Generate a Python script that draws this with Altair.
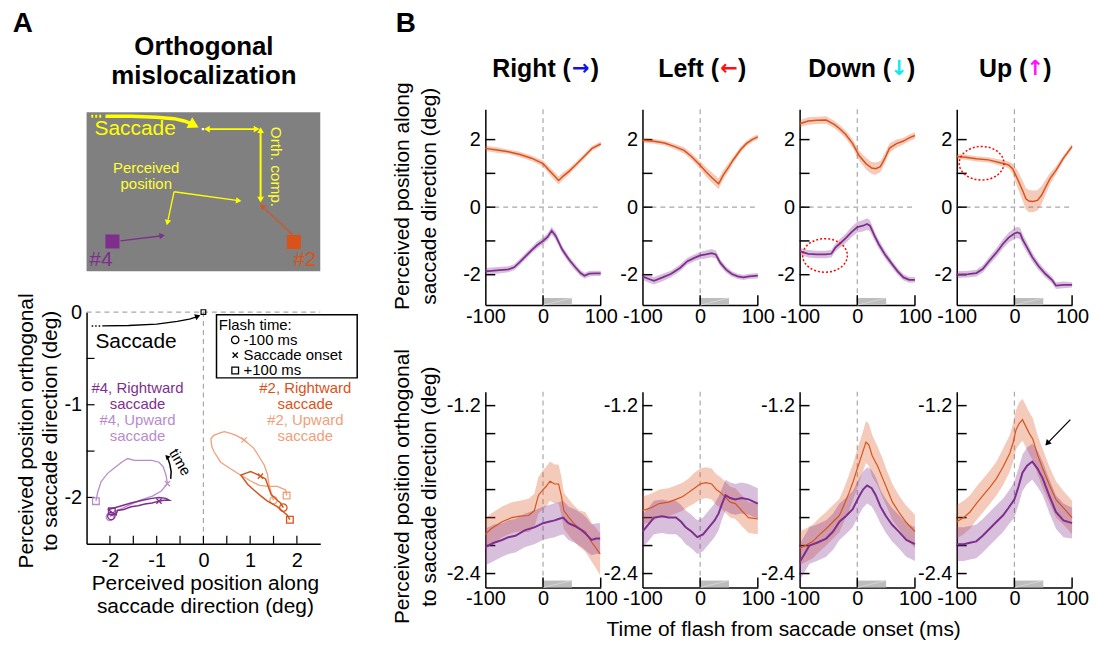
import altair as alt
import pandas as pd

FONT = "Liberation Sans"
ORANGE = "#D95319"
PURPLE = "#7E2F8E"
ORANGE_L = "#F0A07A"
PURPLE_L = "#B88CCB"
DASH_GRAY = "#A8A8A8"
BAR_GRAY = "#BDBDBD"
YELLOW = "#FFFF00"

# ---------------- Panel B : along saccade direction (top row) ----------------
DIRECTIONS = ["Right", "Left", "Down", "Up"]
ARROWS = ["\u2192", "\u2190", "\u2193", "\u2191"]
ARROW_COLORS = ["#1010F0", "#FF1010", "#10E8F0", "#FF10FF"]
TITLE_POS = [(86, 96, 106), (77, 87, 96), (92, 100, 108), (71, 79, 87)]

right_top_o_t = [-100, -80, -60, -40, -20, 0, 10, 20, 27, 35, 45, 56, 70, 85, 100]
right_top_o_v = [1.74, 1.69, 1.64, 1.56, 1.45, 1.29, 1.10, 0.92, 0.79, 0.92, 1.06, 1.24, 1.48, 1.74, 1.87]
right_top_o_e = [0.08, 0.08, 0.07, 0.08, 0.08, 0.09, 0.11, 0.12, 0.12, 0.11, 0.09, 0.08, 0.08, 0.07, 0.07]
right_top_p_t = [-100, -80, -60, -50, -40, -30, -20, -10, 0, 8, 15, 22, 33, 45, 56, 65, 72, 80, 90, 100]
right_top_p_v = [-1.90, -1.87, -1.84, -1.78, -1.62, -1.45, -1.28, -1.12, -1.00, -0.88, -0.70, -0.85, -1.25, -1.55, -1.78, -1.95, -2.03, -1.97, -1.96, -1.96]
right_top_p_e = [0.10, 0.10, 0.09, 0.09, 0.09, 0.09, 0.09, 0.10, 0.10, 0.11, 0.12, 0.12, 0.11, 0.10, 0.10, 0.09, 0.09, 0.08, 0.08, 0.08]

left_top_o_t = [-100, -80, -62, -45, -28, -15, 0, 10, 20, 32, 40, 50, 57, 70, 80, 90, 100]
left_top_o_v = [1.98, 1.95, 1.90, 1.80, 1.68, 1.50, 1.24, 1.05, 0.88, 0.69, 0.95, 1.20, 1.39, 1.70, 1.88, 2.00, 2.08]
left_top_o_e = [0.07, 0.07, 0.07, 0.08, 0.09, 0.10, 0.12, 0.14, 0.15, 0.16, 0.14, 0.12, 0.10, 0.09, 0.08, 0.08, 0.08]
left_top_p_t = [-100, -90, -80, -65, -51, -35, -22, -10, 0, 10, 20, 27, 35, 45, 55, 65, 75, 85, 100]
left_top_p_v = [-2.05, -2.12, -2.18, -2.08, -1.98, -1.80, -1.60, -1.50, -1.43, -1.40, -1.36, -1.40, -1.65, -1.85, -1.98, -2.05, -2.08, -2.05, -2.03]
left_top_p_e = [0.10, 0.11, 0.11, 0.11, 0.10, 0.10, 0.10, 0.10, 0.11, 0.12, 0.12, 0.12, 0.10, 0.09, 0.08, 0.08, 0.08, 0.08, 0.08]

down_top_o_t = [-100, -85, -70, -54, -40, -31, -20, -8, 3, 15, 25, 32, 40, 48, 56, 68, 79, 90, 100]
down_top_o_v = [2.47, 2.55, 2.57, 2.58, 2.45, 2.33, 2.15, 1.88, 1.53, 1.29, 1.16, 1.14, 1.20, 1.45, 1.75, 1.88, 1.95, 2.05, 2.12]
down_top_o_e = [0.10, 0.11, 0.11, 0.11, 0.11, 0.11, 0.12, 0.13, 0.15, 0.17, 0.18, 0.18, 0.17, 0.16, 0.14, 0.12, 0.10, 0.10, 0.10]
down_top_p_t = [-100, -85, -70, -55, -45, -38, -31, -20, -10, 0, 10, 17, 22, 30, 37, 48, 60, 70, 80, 90, 100]
down_top_p_v = [-1.30, -1.38, -1.40, -1.40, -1.38, -1.20, -1.09, -0.92, -0.74, -0.59, -0.55, -0.50, -0.55, -0.85, -1.09, -1.40, -1.68, -1.90, -2.08, -2.15, -2.15]
down_top_p_e = [0.10, 0.11, 0.11, 0.11, 0.11, 0.12, 0.13, 0.14, 0.15, 0.16, 0.17, 0.17, 0.16, 0.14, 0.13, 0.12, 0.11, 0.10, 0.09, 0.09, 0.08]

up_top_o_t = [-100, -85, -66, -45, -23, -10, -3, 5, 14, 20, 25, 32, 40, 47, 54, 62, 72, 85, 100]
up_top_o_v = [1.50, 1.48, 1.43, 1.40, 1.31, 1.25, 1.14, 0.85, 0.50, 0.25, 0.18, 0.17, 0.20, 0.35, 0.59, 0.85, 1.09, 1.45, 1.80]
up_top_o_e = [0.08, 0.08, 0.08, 0.08, 0.09, 0.10, 0.15, 0.25, 0.30, 0.32, 0.33, 0.32, 0.30, 0.27, 0.22, 0.17, 0.12, 0.08, 0.08]
up_top_p_t = [-100, -80, -66, -55, -43, -30, -20, -10, 0, 5, 10, 14, 22, 31, 42, 54, 65, 72, 85, 100]
up_top_p_v = [-2.00, -1.98, -1.95, -1.83, -1.58, -1.32, -1.09, -0.90, -0.78, -0.75, -0.78, -0.95, -1.20, -1.48, -1.75, -1.98, -2.15, -2.32, -2.30, -2.30]
up_top_p_e = [0.10, 0.10, 0.10, 0.11, 0.12, 0.13, 0.14, 0.15, 0.16, 0.17, 0.17, 0.16, 0.15, 0.14, 0.12, 0.11, 0.10, 0.10, 0.10, 0.08]

# ---------------- Panel B : orthogonal component (bottom row) ----------------
right_bot_o_t = [-100, -90, -71, -54, -40, -25, -15, -8, 0, 5, 12, 20, 27, 32, 36, 45, 53, 63, 73, 85, 99]
right_bot_o_v = [-2.12, -2.08, -2.03, -2.00, -1.99, -1.985, -1.95, -1.84, -1.80, -1.78, -1.74, -1.76, -1.76, -1.85, -1.95, -2.00, -2.04, -2.08, -2.10, -2.18, -2.26]
right_bot_o_e = [0.11, 0.11, 0.11, 0.11, 0.11, 0.12, 0.12, 0.13, 0.14, 0.14, 0.14, 0.14, 0.14, 0.14, 0.13, 0.13, 0.13, 0.13, 0.14, 0.14, 0.15]
right_bot_p_t = [-100, -85, -71, -60, -48, -31, -15, 0, 10, 20, 27, 35, 44, 55, 67, 75, 84, 92, 99]
right_bot_p_v = [-2.21, -2.18, -2.16, -2.14, -2.13, -2.09, -2.07, -2.04, -2.03, -2.02, -2.01, -2.00, -2.04, -2.06, -2.09, -2.12, -2.16, -2.15, -2.15]
right_bot_p_e = [0.13, 0.13, 0.12, 0.12, 0.12, 0.12, 0.12, 0.12, 0.12, 0.12, 0.12, 0.12, 0.12, 0.12, 0.12, 0.12, 0.11, 0.11, 0.11]

left_bot_o_t = [-100, -85, -71, -55, -42, -30, -20, -10, 0, 10, 20, 28, 35, 45, 52, 61, 72, 84, 100]
left_bot_o_v = [-1.95, -1.93, -1.90, -1.89, -1.87, -1.85, -1.82, -1.79, -1.76, -1.75, -1.76, -1.80, -1.82, -1.86, -1.89, -1.90, -1.95, -2.00, -2.01]
left_bot_o_e = [0.10, 0.10, 0.10, 0.10, 0.10, 0.10, 0.10, 0.11, 0.11, 0.11, 0.11, 0.11, 0.11, 0.11, 0.11, 0.11, 0.11, 0.11, 0.11]
left_bot_p_t = [-100, -90, -80, -66, -55, -42, -33, -25, -15, -5, 5, 15, 25, 32, 38, 44, 52, 61, 72, 84, 100]
left_bot_p_v = [-2.10, -2.05, -2.00, -1.99, -2.00, -2.00, -2.03, -2.07, -2.10, -2.14, -2.12, -2.07, -2.02, -1.97, -1.90, -1.84, -1.86, -1.87, -1.86, -1.87, -1.90]
left_bot_p_e = [0.12, 0.12, 0.12, 0.12, 0.12, 0.12, 0.12, 0.12, 0.12, 0.12, 0.12, 0.12, 0.12, 0.12, 0.11, 0.11, 0.11, 0.11, 0.11, 0.11, 0.11]

down_bot_o_t = [-100, -90, -77, -65, -54, -42, -31, -22, -14, -7, 0, 8, 15, 20, 26, 35, 44, 52, 61, 72, 84, 100]
down_bot_o_v = [-2.22, -2.20, -2.17, -2.12, -2.08, -2.03, -1.985, -1.90, -1.82, -1.74, -1.65, -1.55, -1.46, -1.48, -1.56, -1.63, -1.72, -1.80, -1.89, -1.96, -2.03, -2.10]
down_bot_o_e = [0.12, 0.12, 0.12, 0.12, 0.12, 0.12, 0.12, 0.12, 0.13, 0.13, 0.14, 0.14, 0.15, 0.15, 0.15, 0.14, 0.14, 0.13, 0.13, 0.12, 0.12, 0.12]
down_bot_p_t = [-100, -90, -83, -70, -54, -42, -31, -20, -8, 3, 10, 17, 25, 32, 40, 49, 60, 72, 85, 100]
down_bot_p_v = [-2.32, -2.25, -2.20, -2.18, -2.15, -2.10, -2.03, -1.99, -1.94, -1.85, -1.80, -1.77, -1.79, -1.84, -1.92, -1.985, -2.05, -2.10, -2.16, -2.19]
down_bot_p_e = [0.13, 0.13, 0.13, 0.13, 0.13, 0.13, 0.13, 0.13, 0.13, 0.13, 0.13, 0.13, 0.13, 0.13, 0.12, 0.12, 0.12, 0.12, 0.12, 0.12]

up_bot_o_t = [-100, -88, -77, -66, -54, -42, -31, -20, -8, -2, 3, 8, 14, 20, 26, 32, 40, 49, 60, 72, 85, 100]
up_bot_o_v = [-2.03, -2.00, -1.96, -1.90, -1.84, -1.78, -1.72, -1.64, -1.54, -1.46, -1.37, -1.33, -1.30, -1.35, -1.40, -1.44, -1.55, -1.65, -1.76, -1.87, -1.93, -2.00]
up_bot_o_e = [0.12, 0.12, 0.12, 0.12, 0.12, 0.12, 0.12, 0.13, 0.13, 0.14, 0.14, 0.15, 0.15, 0.15, 0.15, 0.15, 0.14, 0.14, 0.13, 0.13, 0.12, 0.12]
up_bot_p_t = [-100, -88, -77, -66, -55, -43, -31, -20, -10, 0, 7, 14, 22, 31, 40, 49, 60, 72, 85, 100]
up_bot_p_v = [-2.19, -2.19, -2.18, -2.17, -2.13, -2.08, -2.03, -1.985, -1.93, -1.87, -1.78, -1.68, -1.63, -1.60, -1.65, -1.72, -1.84, -1.96, -2.02, -2.04]
up_bot_p_e = [0.12, 0.12, 0.12, 0.12, 0.12, 0.12, 0.12, 0.12, 0.12, 0.13, 0.13, 0.13, 0.13, 0.13, 0.13, 0.12, 0.12, 0.12, 0.12, 0.11]

TOP = {
    "Right": [(right_top_o_t, right_top_o_v, right_top_o_e), (right_top_p_t, right_top_p_v, right_top_p_e)],
    "Left": [(left_top_o_t, left_top_o_v, left_top_o_e), (left_top_p_t, left_top_p_v, left_top_p_e)],
    "Down": [(down_top_o_t, down_top_o_v, down_top_o_e), (down_top_p_t, down_top_p_v, down_top_p_e)],
    "Up": [(up_top_o_t, up_top_o_v, up_top_o_e), (up_top_p_t, up_top_p_v, up_top_p_e)],
}
BOT = {
    "Right": [(right_bot_o_t, right_bot_o_v, right_bot_o_e), (right_bot_p_t, right_bot_p_v, right_bot_p_e)],
    "Left": [(left_bot_o_t, left_bot_o_v, left_bot_o_e), (left_bot_p_t, left_bot_p_v, left_bot_p_e)],
    "Down": [(down_bot_o_t, down_bot_o_v, down_bot_o_e), (down_bot_p_t, down_bot_p_v, down_bot_p_e)],
    "Up": [(up_bot_o_t, up_bot_o_v, up_bot_o_e), (up_bot_p_t, up_bot_p_v, up_bot_p_e)],
}

TOP_YDOM = [-2.9, 2.9]
BOT_YDOM = [-2.5, -1.1]
TOP_YLABELS = [-2, 0, 2]
TOP_YTICKS = [-2, -1, 0, 1, 2]
BOT_YLABELS = [-1.2, -2.4]
BOT_YTICKS = [-1.2, -1.4, -1.6, -1.8, -2.0, -2.2, -2.4]
X_LABELS = [-100, 0, 100]
X_TICKS = [0, 100]
BAR_T = [0, 50]
TOP_BAR_Y = [-2.9, -2.69]
BOT_BAR_Y = [-2.5, -2.45]

ELLIPSES = {("Down", 0): (-56, -1.43), ("Up", 0): (-57, 1.30)}
ARROW_UP_BOT_T = [97, 57]
ARROW_UP_BOT_V = [-1.30, -1.47]

# ---------------- Panel A : trajectories ----------------
traj_lo_x = [1.50, 1.45, 1.40, 1.37, 1.30, 1.18, 1.08, 0.87, 0.70, 0.58, 0.45, 0.37, 0.22, 0.16, 0.18, 0.23, 0.37, 0.58, 0.80, 1.00, 1.20, 1.40, 1.58, 1.76, 1.78]
traj_lo_y = [-2.03, -1.95, -1.85, -1.75, -1.65, -1.55, -1.47, -1.38, -1.33, -1.31, -1.29, -1.30, -1.33, -1.37, -1.45, -1.51, -1.62, -1.69, -1.76, -1.82, -1.87, -1.88, -1.88, -1.92, -1.98]
traj_lo_onset = 7
traj_do_x = [1.71, 1.65, 1.58, 1.52, 1.45, 1.40, 1.33, 1.22, 1.10, 1.01, 0.90, 0.80, 0.95, 1.08, 1.22, 1.37, 1.58, 1.72, 1.79, 1.85]
traj_do_y = [-2.11, -2.06, -2.03, -2.00, -1.97, -1.90, -1.80, -1.77, -1.74, -1.72, -1.74, -1.76, -1.86, -1.92, -1.98, -2.04, -2.10, -2.16, -2.19, -2.24]
traj_do_onset = 7
traj_dp_x = [-1.97, -1.92, -1.87, -1.84, -1.70, -1.55, -1.40, -1.25, -1.10, -0.95, -0.85, -0.73, -0.80, -0.95, -1.10, -1.30, -1.55, -1.75, -1.95, -2.03, -1.97, -1.96]
traj_dp_y = [-2.20, -2.17, -2.19, -2.14, -2.13, -2.10, -2.09, -2.07, -2.06, -2.04, -2.03, -2.03, -2.01, -2.00, -2.01, -2.03, -2.06, -2.09, -2.12, -2.13, -2.16, -2.15]
traj_dp_onset = 9
traj_lp_x = [-2.00, -1.97, -1.90, -1.75, -1.58, -1.35, -1.09, -0.90, -0.77, -0.80, -0.86, -0.95, -1.10, -1.27, -1.48, -1.62, -1.75, -1.90, -2.05, -2.19, -2.26, -2.30]
traj_lp_y = [-2.21, -2.18, -2.15, -2.12, -2.08, -2.03, -1.985, -1.93, -1.85, -1.76, -1.67, -1.62, -1.60, -1.60, -1.60, -1.58, -1.62, -1.68, -1.74, -1.83, -1.94, -2.04]
traj_lp_onset = 8

sacc_dot_x = [-2.39, -2.16]
sacc_dot_y = [-0.15, -0.15]
sacc_curve_x = [-2.16, -1.6, -1.0, -0.56, -0.30, -0.16]
sacc_curve_y = [-0.15, -0.145, -0.13, -0.10, -0.075, -0.055]

LEGEND_BOX = (0.28, 3.29, -0.03, -0.71)
legend_x_sym = [0.68, 0.68, 0.68]
legend_title_y = -0.14
legend_y = [-0.30, -0.465, -0.63]
legend_labels = ["-100 ms", "Saccade onset", "+100 ms"]
legend_text_x = 0.86

group_x_left = -1.41
group_x_right = 2.18
group_y = [-0.815, -0.99, -1.165, -1.34]
group_texts = ["#4, Rightward", "saccade", "#4, Upward", "saccade"]
group_texts_r = ["#2, Rightward", "saccade", "#2, Upward", "saccade"]

time_arrow_x = [-0.70, -0.69, -0.72, -0.76]
time_arrow_y = [-1.80, -1.72, -1.64, -1.58]

TRAJ_XTICKS = [-2, -1.5, -1, -0.5, 0, 0.5, 1, 1.5, 2]
TRAJ_YTICKS = [-0.5, -1, -1.5, -2]

# ---------------- Panel A : schematic (pixel-like units) ----------------
SCH_W, SCH_H = 235, 160
sch_dotted_x = [4.7, 16.3]
sch_dotted_y = [4, 4]
sch_sacc_x = [19, 45, 70, 88, 98, 104]
sch_sacc_y = [4, 4.2, 5.0, 6.5, 8.8, 11]
sch_seg_x = [123, 169, 175, 175, 88, 151, 88, 82, 34, 74, 207, 179]
sch_seg_y = [17, 17, 20, 86, 80, 88.6, 80, 108, 129.5, 124.5, 123, 97]
sch_seg_id = ["h", "h", "v", "v", "p1", "p1", "p2", "p2", "pu", "pu", "or", "or"]
sch_head_x = [108, 121, 171, 175, 175, 153, 81.3, 76, 176.5]
sch_head_y = [13, 17, 17, 18, 88, 89, 111, 124.2, 94.5]
sch_head_a = [28, 180, 0, 270, 90, 8, 103, 352, 222]
sch_head_c = [YELLOW, YELLOW, YELLOW, YELLOW, YELLOW, YELLOW, YELLOW, PURPLE, ORANGE]
sch_head_s = [150, 45, 45, 45, 45, 40, 40, 40, 40]

ONE = pd.DataFrame({"k": [0]})

# ---------------- layout (pixels) ----------------
COL_A_W = 359          # first grid column (plots use the left 235 px)
A_PLOT_W = 235
PW, PH = 116, 197      # panel B plot size
B_BOT_OFF = 80         # bottom-row plots start 80 px below the row top
B_BOT_H = B_BOT_OFF + PH
TW, TH = 235, 233


def text_px(text, x, y, size, color="black", weight="normal", align="center",
            baseline="middle", angle=None, font=FONT):
    m = dict(text=text, font=font, fontSize=size, color=color, fontWeight=weight,
             align=align, baseline=baseline)
    if angle is not None:
        m["angle"] = angle
    return alt.Chart(ONE).mark_text(**m).encode(x=alt.value(x), y=alt.value(y))


# ======================= schematic =======================
dxs = alt.Scale(domain=[0, SCH_W], range=[0, A_PLOT_W], nice=False, zero=False)
dys = alt.Scale(domain=[-3, SCH_H], nice=False, zero=False, reverse=True)


def dX(f):
    return alt.X(f, type="quantitative", scale=dxs, axis=None)


def dY(f):
    return alt.Y(f, type="quantitative", scale=dys, axis=None)


sch_rect = alt.Chart(pd.DataFrame({"x0": [0], "x1": [SCH_W], "y0": [0], "y1": [SCH_H]})).mark_rect(
    color="#808080").encode(x=dX("x0"), x2="x1", y=dY("y0"), y2="y1")
sch_dot = alt.Chart(pd.DataFrame({"x": sch_dotted_x, "y": sch_dotted_y})).mark_line(
    color=YELLOW, strokeWidth=3, strokeDash=[2, 2]).encode(x=dX("x"), y=dY("y"))
sch_sac = alt.Chart(pd.DataFrame({"x": sch_sacc_x, "y": sch_sacc_y, "i": list(range(len(sch_sacc_x)))})).mark_line(
    color=YELLOW, strokeWidth=3.5).encode(x=dX("x"), y=dY("y"), order="i:Q")
seg_df = pd.DataFrame({"x": sch_seg_x, "y": sch_seg_y, "seg": sch_seg_id, "i": list(range(len(sch_seg_x)))})
seg_color = {"h": YELLOW, "v": YELLOW, "p1": YELLOW, "p2": YELLOW, "pu": PURPLE, "or": ORANGE}
seg_width = {"h": 1.6, "v": 2, "p1": 1.3, "p2": 1.3, "pu": 1.3, "or": 1.3}
sch_segs = [alt.Chart(seg_df[seg_df.seg == s]).mark_line(color=seg_color[s], strokeWidth=seg_width[s]).encode(
    x=dX("x"), y=dY("y"), order="i:Q") for s in ["h", "v", "p1", "p2", "pu", "or"]]
heads_df = pd.DataFrame({"x": sch_head_x, "y": sch_head_y, "a": sch_head_a, "c": sch_head_c, "s": sch_head_s})
sch_heads = alt.Chart(heads_df).mark_point(shape="triangle-right", filled=True, opacity=1).encode(
    x=dX("x"), y=dY("y"), angle=alt.Angle("a:Q", scale=None), color=alt.Color("c:N", scale=None),
    size=alt.Size("s:Q", scale=None))
sch_white = alt.Chart(pd.DataFrame({"x": [117], "y": [17]})).mark_point(
    shape="square", filled=True, color="white", size=5, opacity=1).encode(x=dX("x"), y=dY("y"))
sch_sq = alt.Chart(pd.DataFrame({"x": [26, 208.5], "y": [130, 130.5], "c": [PURPLE, ORANGE]})).mark_point(
    shape="square", filled=True, size=200, opacity=1).encode(x=dX("x"), y=dY("y"), color=alt.Color("c:N", scale=None))
sch_txt = alt.Chart(pd.DataFrame({
    "x": [8, 60, 60, 14.5, 219.5], "y": [17, 56, 72, 149, 149],
    "t": ["Saccade", "Perceived", "position", "#4", "#2"],
    "c": [YELLOW, "#FFFF33", "#FFFF33", PURPLE, ORANGE],
    "s": [21, 15, 15, 21, 21], "al": ["left", "center", "center", "center", "center"]}))
sch_t1 = sch_txt.transform_filter("datum.al == 'left'").mark_text(font=FONT, align="left", baseline="middle").encode(
    x=dX("x"), y=dY("y"), text="t:N", color=alt.Color("c:N", scale=None), size=alt.Size("s:Q", scale=None))
sch_t2 = sch_txt.transform_filter("datum.al == 'center'").mark_text(font=FONT, align="center", baseline="middle").encode(
    x=dX("x"), y=dY("y"), text="t:N", color=alt.Color("c:N", scale=None), size=alt.Size("s:Q", scale=None))
sch_orth = alt.Chart(pd.DataFrame({"x": [190], "y": [55], "t": ["Orth. comp."]})).mark_text(
    font=FONT, fontSize=15.5, color="#FFFF33", angle=90, align="center", baseline="middle").encode(
    x=dX("x"), y=dY("y"), text="t:N")

schematic = alt.layer(
    sch_rect, sch_dot, sch_sac, *sch_segs, sch_heads, sch_white, sch_sq, sch_t1, sch_t2, sch_orth,
    text_px("A", -64, -86, 28, weight="bold"),
    text_px("Orthogonal", 118, -55, 26, weight="bold", baseline="alphabetic"),
    text_px("mislocalization", 118, -25, 26, weight="bold", baseline="alphabetic"),
).properties(width=COL_A_W, height=SCH_H + 3)

# ======================= trajectory plot =======================
txs = alt.Scale(domain=[-2.5, 2.5], range=[0, A_PLOT_W], nice=False, zero=False)
tys = alt.Scale(domain=[-2.5, 0], nice=False, zero=False)
axis_common = dict(grid=False, ticks=False, tickSize=0, domainColor="black", domainWidth=1.5,
                   labelColor="black", labelFont=FONT, labelFontSize=20, labelExpr="'' + datum.value",
                   titleFont=FONT, titleFontSize=21, titleFontWeight="normal", titleColor="black",
                   titleBaseline="middle", titleAlign="center")

t_xaxis = alt.Axis(values=[-2, -1, 0, 1, 2], labelPadding=7, labelFlush=False,
                   title=["Perceived position along", "saccade direction (deg)"],
                   titleX=119, titleY=40, titleLineHeight=23, **axis_common)
t_yaxis = alt.Axis(values=[0, -1, -2], labelPadding=5,
                   title=["Perceived position orthogonal", "to saccade direction (deg)"],
                   titleX=-60, titleY=119, titleAngle=270, titleLineHeight=24, **axis_common)


def tX(f):
    return alt.X(f, type="quantitative", scale=txs, axis=t_xaxis)


def tY(f):
    return alt.Y(f, type="quantitative", scale=tys, axis=t_yaxis)


tr_v0 = alt.Chart(pd.DataFrame({"x": [0]})).mark_rule(color=DASH_GRAY, strokeDash=[5, 4], strokeWidth=1.2).encode(
    x=tX("x"))
tr_h0 = alt.Chart(pd.DataFrame({"y": [0]})).mark_rule(color=DASH_GRAY, strokeDash=[5, 4], strokeWidth=1.2).encode(
    y=tY("y"), x=alt.value(0), x2=alt.value(A_PLOT_W))
tr_xt = alt.Chart(pd.DataFrame({"x": TRAJ_XTICKS})).mark_rule(color="black", strokeWidth=1.2).encode(
    x=tX("x"), y=alt.value(TH), y2=alt.value(TH - 8))
tr_yt = alt.Chart(pd.DataFrame({"y": TRAJ_YTICKS})).mark_rule(color="black", strokeWidth=1.2).encode(
    y=tY("y"), x=alt.value(0), x2=alt.value(8))

XSHAPE = "M-1,-1L1,1M-1,1L1,-1"
traj_layers = []
for xs_, ys_, onset, col, w in [(traj_lo_x, traj_lo_y, traj_lo_onset, ORANGE_L, 1.3),
                                (traj_lp_x, traj_lp_y, traj_lp_onset, PURPLE_L, 1.3),
                                (traj_do_x, traj_do_y, traj_do_onset, ORANGE, 1.5),
                                (traj_dp_x, traj_dp_y, traj_dp_onset, PURPLE, 1.5)]:
    df = pd.DataFrame({"x": xs_, "y": ys_, "i": list(range(len(xs_)))})
    traj_layers.append(alt.Chart(df).mark_line(color=col, strokeWidth=w).encode(
        x=tX("x"), y=tY("y"), order="i:Q"))
    mk = pd.DataFrame({"x": [xs_[0], xs_[onset], xs_[-1]], "y": [ys_[0], ys_[onset], ys_[-1]],
                       "s": ["circle", XSHAPE, "square"], "z": [55, 28, 45]})
    traj_layers.append(alt.Chart(mk).mark_point(filled=False, color=col, strokeWidth=1.3, opacity=1).encode(
        x=tX("x"), y=tY("y"), shape=alt.Shape("s:N", scale=None), size=alt.Size("z:Q", scale=None)))

tr_origin = alt.Chart(pd.DataFrame({"x": [0], "y": [0]})).mark_point(
    shape="square", filled=False, color="black", size=22, strokeWidth=1.2, opacity=1).encode(x=tX("x"), y=tY("y"))
tr_sdot = alt.Chart(pd.DataFrame({"x": sacc_dot_x, "y": sacc_dot_y})).mark_line(
    color="black", strokeWidth=1.5, strokeDash=[1.5, 2]).encode(x=tX("x"), y=tY("y"))
tr_scurve = alt.Chart(pd.DataFrame({"x": sacc_curve_x, "y": sacc_curve_y})).mark_line(
    color="black", strokeWidth=1.3).encode(x=tX("x"), y=tY("y"))
tr_shead = alt.Chart(pd.DataFrame({"x": [-0.12], "y": [-0.045]})).mark_point(
    shape="triangle-right", filled=True, color="black", size=40, angle=340, opacity=1).encode(x=tX("x"), y=tY("y"))
tr_stext = alt.Chart(pd.DataFrame({"x": [-2.31], "y": [-0.32], "t": ["Saccade"]})).mark_text(
    font=FONT, fontSize=21, align="left", baseline="middle", color="black").encode(x=tX("x"), y=tY("y"), text="t:N")

lx0, lx1, ly0, ly1 = LEGEND_BOX
tr_lbox = alt.Chart(pd.DataFrame({"x0": [lx0], "x1": [lx1], "y0": [ly0], "y1": [ly1]})).mark_rect(
    fill="white", stroke="black", strokeWidth=1.5).encode(x=tX("x0"), x2="x1", y=tY("y0"), y2="y1")
tr_ltitle = alt.Chart(pd.DataFrame({"x": [0.33], "y": [legend_title_y], "t": ["Flash time:"]})).mark_text(
    font=FONT, fontSize=15, align="left", baseline="middle", color="black").encode(x=tX("x"), y=tY("y"), text="t:N")
tr_ltext = alt.Chart(pd.DataFrame({"x": [legend_text_x] * 3, "y": legend_y, "t": legend_labels})).mark_text(
    font=FONT, fontSize=15, align="left", baseline="middle", color="black").encode(x=tX("x"), y=tY("y"), text="t:N")
tr_lsym = alt.Chart(pd.DataFrame({"x": legend_x_sym, "y": legend_y, "s": ["circle", XSHAPE, "square"],
                                  "z": [55, 28, 45]})).mark_point(
    filled=False, color="black", strokeWidth=1.3, opacity=1).encode(
    x=tX("x"), y=tY("y"), shape=alt.Shape("s:N", scale=None), size=alt.Size("z:Q", scale=None))

grp = pd.DataFrame({
    "x": [group_x_left] * 4 + [group_x_right] * 4,
    "y": group_y + group_y,
    "t": group_texts + group_texts_r,
    "c": [PURPLE, PURPLE, PURPLE_L, PURPLE_L, ORANGE, ORANGE, ORANGE_L, ORANGE_L]})
tr_grp = alt.Chart(grp).mark_text(font=FONT, fontSize=15, align="center", baseline="middle").encode(
    x=tX("x"), y=tY("y"), text="t:N", color=alt.Color("c:N", scale=None))
tr_time = alt.Chart(pd.DataFrame({"x": [-0.50], "y": [-1.62], "t": ["time"]})).mark_text(
    font=FONT, fontSize=15, angle=60, align="center", baseline="middle", color="black").encode(
    x=tX("x"), y=tY("y"), text="t:N")
tr_tarrow = alt.Chart(pd.DataFrame({"x": time_arrow_x, "y": time_arrow_y, "i": [0, 1, 2, 3]})).mark_line(
    color="black", strokeWidth=1.5).encode(x=tX("x"), y=tY("y"), order="i:Q")
tr_thead = alt.Chart(pd.DataFrame({"x": [-0.78], "y": [-1.56]})).mark_point(
    shape="triangle-right", filled=True, color="black", size=30, angle=225, opacity=1).encode(x=tX("x"), y=tY("y"))

trajectory = alt.layer(
    tr_v0, tr_h0, tr_xt, tr_yt, *traj_layers, tr_origin, tr_sdot, tr_scurve, tr_shead, tr_stext,
    tr_lbox, tr_ltitle, tr_ltext, tr_lsym, tr_grp, tr_time, tr_tarrow, tr_thead
).properties(width=COL_A_W, height=TH)

# ======================= panel B =======================
ELLIPSE = ("M1,0C1,0.414,0.552,0.75,0,0.75C-0.552,0.75,-1,0.414,-1,0"
           "C-1,-0.414,-0.552,-0.75,0,-0.75C0.552,-0.75,1,-0.414,1,0Z")


def b_panel(row, col):
    name = DIRECTIONS[col]
    ydom = TOP_YDOM if row == 0 else BOT_YDOM
    H = PH if row == 0 else B_BOT_H
    top = 0 if row == 0 else B_BOT_OFF
    xs = alt.Scale(domain=[-100, 100], nice=False, zero=False)
    ys = alt.Scale(domain=ydom, range=[H, top], nice=False, zero=False)
    xaxis = alt.Axis(values=X_LABELS, labelPadding=1, labelFlush=False, title=None, **axis_common)
    ykw = dict(values=TOP_YLABELS if row == 0 else BOT_YLABELS, labelPadding=5)
    if col == 0:
        ykw.update(title=(["Perceived position along", "saccade direction (deg)"] if row == 0 else
                          ["Perceived position orthogonal", "to saccade direction (deg)"]),
                   titleX=-83, titleY=(87 if row == 0 else 175), titleAngle=270, titleLineHeight=27)
    else:
        ykw.update(title=None)
    yaxis = alt.Axis(**ykw, **axis_common)

    def X(f):
        return alt.X(f, type="quantitative", scale=xs, axis=xaxis)

    def Y(f):
        return alt.Y(f, type="quantitative", scale=ys, axis=yaxis)

    bar_y = TOP_BAR_Y if row == 0 else BOT_BAR_Y
    bar_df = pd.DataFrame({"t0": [BAR_T[0]], "t1": [BAR_T[1]], "y0": [bar_y[0]], "y1": [bar_y[1]]})
    layers = [
        alt.Chart(bar_df).mark_rect(color=BAR_GRAY).encode(x=X("t0"), x2="t1", y=Y("y0"), y2="y1"),
        alt.Chart(bar_df).mark_rule(color="#DCDCDC", strokeWidth=0.8).encode(x=X("t0"), x2="t1", y=Y("y0"), y2="y1"),
        alt.Chart(pd.DataFrame({"t": [0]})).mark_rule(color=DASH_GRAY, strokeDash=[5, 4], strokeWidth=1.2).encode(
            x=X("t"), y=alt.value(top), y2=alt.value(H)),
    ]
    if row == 0:
        layers.append(alt.Chart(pd.DataFrame({"v": [0]})).mark_rule(
            color=DASH_GRAY, strokeDash=[5, 4], strokeWidth=1.2).encode(y=Y("v"), x=alt.value(0), x2=alt.value(PW)))
    layers.append(alt.Chart(pd.DataFrame({"v": TOP_YTICKS if row == 0 else BOT_YTICKS})).mark_rule(
        color="black", strokeWidth=1.5).encode(y=Y("v"), x=alt.value(0), x2=alt.value(10)))
    layers.append(alt.Chart(pd.DataFrame({"t": X_TICKS})).mark_rule(color="black", strokeWidth=1.5).encode(
        x=X("t"), y=alt.value(H), y2=alt.value(H - 10)))
    series = (TOP if row == 0 else BOT)[name]
    cols = [ORANGE, PURPLE]
    widths = [1.5, 1.8] if row == 0 else [1.2, 2.0]
    for (ts, vs, es), c in zip(series, cols):
        df = pd.DataFrame({"t": ts, "v": vs, "lo": [v - e for v, e in zip(vs, es)],
                           "hi": [v + e for v, e in zip(vs, es)]})
        layers.append(alt.Chart(df).mark_area(color=c, opacity=0.3).encode(x=X("t"), y=Y("lo"), y2="hi"))
    for (ts, vs, es), c, w in zip(series, cols, widths):
        df = pd.DataFrame({"t": ts, "v": vs})
        layers.append(alt.Chart(df).mark_line(color=c, strokeWidth=w).encode(x=X("t"), y=Y("v")))
    if (name, row) in ELLIPSES:
        et, ev = ELLIPSES[(name, row)]
        layers.append(alt.Chart(pd.DataFrame({"t": [et], "v": [ev]})).mark_point(
            shape=ELLIPSE, filled=False, color="#FF0000", strokeWidth=1.5, strokeDash=[2, 2], size=2025,
            opacity=1).encode(x=X("t"), y=Y("v")))
    if name == "Up" and row == 1:
        adf = pd.DataFrame({"t": ARROW_UP_BOT_T, "v": ARROW_UP_BOT_V})
        layers.append(alt.Chart(adf).mark_line(color="black", strokeWidth=1.3).encode(x=X("t"), y=Y("v")))
        layers.append(alt.Chart(adf.iloc[[1]]).mark_point(
            shape="triangle-right", filled=True, color="black", size=45, angle=132, opacity=1).encode(
            x=X("t"), y=Y("v")))
    if row == 0:
        a, b, c = TITLE_POS[col]
        layers.append(text_px(name + " (", a, -40, 25, weight="bold", align="right"))
        layers.append(text_px(ARROWS[col], b, -40, 21, color=ARROW_COLORS[col], weight="bold", font="DejaVu Sans"))
        layers.append(text_px(")", c, -40, 25, weight="bold", align="left"))
        if col == 0:
            layers.append(text_px("B", -80, -86, 28, weight="bold"))
    if row == 1 and col == 1:
        layers.append(text_px("Time of flash from saccade onset (ms)", 142, 320, 21))
    return alt.layer(*layers).properties(width=PW, height=H)


cells = [schematic] + [b_panel(0, i) for i in range(4)] + [trajectory] + [b_panel(1, i) for i in range(4)]
chart = alt.concat(*cells, columns=5, spacing={"row": 7, "column": 42}, align="each", bounds="flush").properties(
    padding={"left": 4, "top": 0, "right": 0, "bottom": 0}
).configure(font=FONT).configure_view(stroke=None)

chart.save("out.html", embed_options={"renderer": "svg", "actions": False})
